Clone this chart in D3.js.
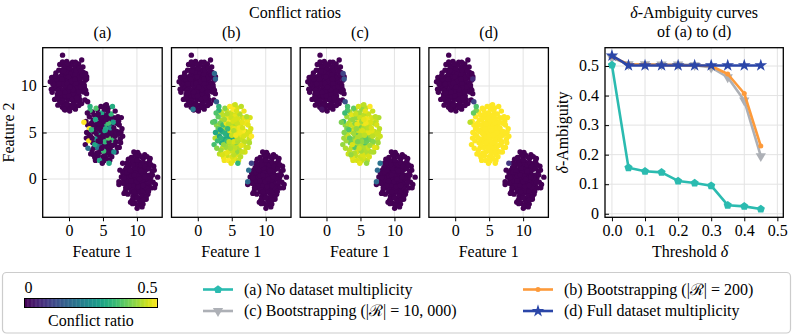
<!DOCTYPE html>
<html>
<head>
<meta charset="utf-8">
<script src="https://cdn.jsdelivr.net/npm/d3@7"></script>
</head>
<body style="margin:0">
<svg id="chart" width="793" height="335"></svg>
<script>
// ---- data ----
var panelNames = ['(a)', '(b)', '(c)', '(d)'];
var featureTicks = [0, 5, 10];

// top-left blob, conflict ratio 0 in every panel
var blobTopLeft = [
  [-0.12, 10.05], [0.35, 9.72], [-0.48, 10.31], [0.61, 10.44], [-0.73, 9.58], [0.18, 10.83], [-0.29, 9.21],
  [0.92, 9.96], [-1.04, 10.12], [0.44, 9.35], [-0.57, 10.77], [1.13, 10.52], [-0.86, 9.07], [0.07, 9.55],
  [0.71, 11.02], [-1.31, 10.48], [1.37, 9.64], [-0.21, 11.19], [0.53, 8.88], [-1.19, 9.44], [1.02, 10.95],
  [-0.64, 11.37], [0.26, 10.23], [-0.38, 9.83], [1.56, 10.21], [-1.58, 9.89], [0.83, 9.12], [-0.95, 10.86],
  [0.12, 11.58], [-0.09, 8.62], [1.29, 11.34], [-1.42, 10.97], [0.97, 8.71], [-0.72, 8.69], [1.74, 9.47],
  [-1.81, 10.36], [0.41, 11.71], [-0.47, 11.82], [1.48, 8.94], [-1.22, 8.84], [2.01, 10.28], [-2.04, 9.71],
  [0.66, 8.31], [-0.31, 8.24], [1.21, 11.87], [-1.07, 11.69], [1.89, 10.93], [-1.71, 9.12], [0.03, 12.16],
  [0.88, 12.08], [-0.79, 12.21], [1.63, 8.52], [-1.49, 8.47], [2.27, 9.81], [-2.31, 10.54], [0.21, 7.92],
  [-0.66, 7.98], [1.05, 7.86], [2.12, 11.46], [-1.93, 11.41], [2.41, 10.62], [-2.48, 9.33], [0.52, 12.57],
  [-0.33, 12.63], [1.42, 12.36], [-1.36, 12.31], [2.58, 9.18], [-2.55, 10.91], [1.86, 8.11], [-1.64, 7.94],
  [0.94, 7.51], [-0.21, 7.59], [2.05, 12.04], [-2.12, 8.56], [-0.95, 13.32], [1.87, 12.8], [2.35, 8.5],
  [-0.59, 7.42], [0.55, 10.05], [-0.55, 9.95], [0.15, 9.05], [-0.15, 10.62], [1.3, 10.05], [-1.3, 9.95],
  [0.75, 9.4], [-0.9, 10.45], [0.45, 10.95], [-0.35, 9.45], [1.05, 9.35], [-0.95, 9.55], [1.65, 10.7],
  [-1.6, 10.6], [0.3, 8.55], [-0.65, 11.05], [1.35, 9.0], [-1.1, 9.0], [0.05, 10.4], [0.65, 11.5],
  [-1.0, 11.3], [1.9, 9.7], [-1.95, 10.1], [0.0, 9.65],
  [0.38, 10.62], [-0.82, 10.28], [0.95, 10.28], [-0.18, 9.38], [0.62, 9.08], [-0.52, 8.94], [1.18, 9.78],
  [-1.45, 10.22], [0.22, 11.28], [-0.42, 11.51], [0.86, 11.22], [-1.18, 11.02], [1.52, 10.92], [-1.62, 9.52],
  [0.48, 8.62], [-0.95, 8.38], [1.26, 8.38], [-0.05, 8.95], [1.72, 9.92], [-1.85, 10.78], [0.08, 11.92],
  [-0.68, 12.05], [1.05, 11.68], [-1.5, 11.7], [2.15, 9.35], [-2.2, 9.95], [0.75, 7.95], [-0.35, 7.95],
  [1.55, 11.95], [-1.28, 8.2], [0.28, 10.48], [-0.25, 10.28], [0.58, 9.62], [-0.62, 9.32], [0.88, 10.72],
  [-1.05, 10.72], [1.45, 9.38], [-1.4, 9.25], [0.15, 9.88], [-0.08, 11.0], [1.12, 8.75], [-0.8, 11.65],
  [0.35, 12.25], [-0.15, 12.4], [1.95, 11.2], [-2.05, 11.05], [2.25, 10.1], [-2.38, 10.22], [0.5, 7.7],
  [-0.98, 7.72], [1.45, 7.9], [1.8, 11.62], [-1.75, 8.75], [2.45, 9.55], [-2.6, 9.65], [0.95, 12.55],
  [-0.95, 12.6], [2.6, 11.0], [-2.75, 10.45], [0.1, 7.3]
];

// bottom-right blob, conflict ratio 0 in every panel
var blobBottomRight = [
  [10.08, -0.14], [9.62, 0.31], [10.47, 0.52], [9.71, -0.63], [10.39, -0.48], [9.24, 0.06], [10.86, 0.11],
  [10.17, 0.84], [9.88, -1.07], [9.35, 0.92], [10.71, -0.97], [9.05, -0.58], [11.12, 0.63], [10.29, 1.27],
  [9.47, -1.34], [10.95, -0.42], [8.91, 0.47], [9.83, 1.45], [10.58, -1.51], [11.33, -0.12], [8.74, -0.21],
  [9.98, 0.38], [10.02, -0.55], [9.56, -0.12], [10.62, 0.23], [11.48, 1.04], [8.62, -0.97], [10.41, 1.79],
  [9.41, -1.88], [11.21, -1.33], [8.83, 1.21], [9.61, 1.91], [10.84, 1.38], [10.19, -2.01], [11.67, 0.32],
  [8.41, 0.39], [9.14, -1.41], [11.06, -1.86], [8.55, 1.72], [11.79, -0.71], [9.97, 2.24], [10.66, -2.32],
  [9.29, -2.27], [11.58, 1.67], [8.33, -0.52], [10.93, 2.18], [12.02, 0.12], [8.18, 0.93], [9.72, -2.61],
  [11.36, -2.18], [8.66, -1.63], [12.11, -0.96], [9.18, 2.31], [10.34, 2.58], [12.24, 0.81], [8.05, -0.11],
  [11.84, 1.94], [10.48, -2.73], [9.06, -2.49], [7.92, 0.68], [12.38, -0.35], [11.61, -1.65], [8.29, -1.31],
  [10.12, 2.86], [12.47, 1.38], [10.03, -3.15], [7.71, 0.21], [12.71, -0.58], [11.15, 2.61], [8.74, 2.12],
  [9.48, 0.71], [10.24, 0.05], [9.76, -0.31], [10.55, -0.18], [9.9, 0.9], [10.3, -1.0], [9.3, -0.4],
  [10.75, 0.65], [9.55, 1.25], [10.5, -1.25], [9.1, 0.55], [11.0, 0.0], [9.65, -0.9], [10.2, 0.45],
  [9.0, -1.0], [11.25, 0.45], [10.85, -1.4], [9.15, 1.6], [10.65, 1.0], [9.4, -0.95], [11.4, -0.6],
  [8.6, 0.05], [10.0, 1.6], [9.9, -1.6], [11.8, 0.4], [8.4, -0.25], [10.9, -2.7], [13.05, 0.2],
  [7.35, -0.6], [11.5, 2.4],
  [10.35, 0.22], [9.82, 0.62], [10.62, -0.72], [9.45, -0.72], [10.15, -1.32], [9.18, 0.32], [11.05, 0.92],
  [10.45, 1.05], [9.7, 1.18], [10.85, -0.12], [9.85, 0.08], [9.25, -1.15], [11.18, -0.85], [10.55, 1.52],
  [9.45, 1.55], [10.75, -1.82], [9.62, -1.38], [11.55, 0.05], [8.55, 0.72], [11.42, -1.02], [8.85, -0.72],
  [10.05, 2.02], [9.28, 2.0], [11.0, 1.72], [10.35, -2.35], [9.5, -2.12], [11.25, 1.35], [8.75, 1.62],
  [11.95, -0.35], [8.12, 0.15], [12.3, 0.42], [10.7, 2.35], [9.75, 2.55], [11.8, 1.15], [8.35, -0.95],
  [11.35, -1.95], [10.15, -2.85], [9.35, -2.65], [12.05, 1.55], [7.95, -0.45], [10.12, 0.28], [9.95, -0.28],
  [10.38, -0.02], [9.58, 0.42], [10.58, 0.85], [10.22, -0.82], [9.12, -0.22], [11.15, 0.18], [8.95, 0.95],
  [10.9, -0.7], [9.98, -2.05], [10.95, -2.25], [8.45, 1.25], [12.55, 0.95], [12.6, -0.95], [11.7, -1.35],
  [8.1, -1.55], [9.55, 2.9], [10.75, -3.0], [11.95, 2.2]
];

// middle blob: [feature 1, feature 2, conflict (a), (b), (c), (d)]
var blobMiddle = [
  [5.2, 4.8, 0, .47, .45, .5], [4.75, 4.7, 0, .49, .43, .5], [5.45, 5.7, 0, .46, .47, .5], [4.35, 5.85, 0, .44, .44, .5],
  [5.95, 5.75, 0, .48, .46, .5], [4.25, 4.4, 0, .45, .47, .5], [5.75, 3.65, 0, .47, .44, .5], [4.65, 3.6, 0, .48, .41, .5],
  [6.35, 4.45, 0, .46, .45, .5], [3.75, 5.25, 0, .43, .44, .5], [5.05, 6.95, 0, .47, .46, .5], [4.95, 3.05, 0, .49, .45, .5],
  [6.55, 6.6, 0, .45, .48, .5], [3.55, 6.35, 0, .44, .43, .5], [6.75, 3.75, 0, .48, .46, .5], [3.65, 3.35, 0, .46, .45, .5],
  [5.65, 6.9, 0, .47, .44, .5], [4.15, 6.75, 0, .48, .47, .5], [7.05, 5.1, 0, .46, .45, .5], [2.95, 4.8, 0, .42, .44, .5],
  [6.0, 2.6, 0, .47, .47, .5], [4.3, 2.5, 0, .46, .45, .5], [7.3, 6.2, 0, .49, .46, .5], [2.75, 5.8, 0, .41, .42, .5],
  [5.35, 7.9, 0, .48, .46, .5], [6.95, 2.9, 0, .47, .44, .5], [3.2, 2.7, 0, .45, .46, .5], [7.55, 4.3, 0, .46, .45, .5],
  [5.5, 2.2, 0, .48, .47, .5], [3.45, 7.2, 0, .46, .44, .5], [6.0, 6.2, 0, .5, .47, .5], [4.05, 5.3, 0, .47, .46, .5],
  [5.25, 3.75, 0, .45, .43, .5], [4.55, 6.9, 0, .48, .45, .5], [6.5, 5.0, 0, .49, .47, .5], [4.85, 4.4, 0, .47, .44, .5],
  [5.6, 5.95, 0, .46, .46, .5], [4.05, 3.95, 0, .48, .45, .5], [6.2, 3.05, 0, .45, .44, .5], [3.25, 5.75, 0, .44, .45, .5],
  [6.85, 6.55, 0, .48, .47, .5], [5.8, 7.65, 0, .47, .45, .5], [4.2, 7.45, 0, .46, .44, .5], [3.9, 2.0, 0, .49, .47, .5],
  [7.4, 3.4, 0, .46, .46, .5], [2.55, 4.4, 0, .44, .43, .5], [5.15, 1.95, 0, .48, .46, .5], [7.65, 5.05, 0, .47, .46, .5],
  [5.1, 5.0, 0, .48, .46, .5], [4.6, 5.4, 0, .47, .44, .5], [5.5, 4.5, .3, .45, .42, .5], [4.3, 4.7, 0, .33, .4, .5],
  [5.8, 5.3, 0, .49, .47, .5], [4.9, 4.2, 0, .46, .38, .5], [5.3, 5.8, .32, .44, .48, .5], [4.1, 5.6, 0, .42, .45, .5],
  [6.1, 4.7, 0, .48, .43, .5], [4.7, 6.2, 0, .5, .49, .5], [5.6, 3.9, 0, .41, .36, .5], [3.9, 4.3, .28, .3, .41, .5],
  [6.3, 5.7, 0, .47, .46, .5], [5.0, 3.6, 0, .45, .44, .5], [4.4, 6.6, 0, .49, .42, .5], [3.6, 5.1, 0, .32, .47, .5],
  [6.5, 4.2, .34, .46, .4, .5], [5.4, 6.7, 0, .48, .45, .5], [3.5, 3.9, 0, .31, .39, .5], [6.0, 3.3, 0, .44, .46, .5],
  [4.2, 3.4, .2, .43, .37, .5], [6.7, 5.2, 0, .5, .48, .5], [3.3, 6.0, 0, .4, .44, .5], [5.9, 6.5, 0, .47, .49, .5],
  [4.8, 7.1, .3, .46, .43, .5], [3.2, 4.6, 0, .29, .46, .5], [6.9, 4.0, 0, .45, .41, .5], [4.5, 2.9, 0, .48, .47, .5],
  [5.7, 2.9, 0, .42, .44, .5], [3.0, 5.4, .5, .38, .4, .5], [7.0, 6.0, 0, .49, .45, .5], [6.2, 7.0, .33, .44, .46, .5],
  [3.7, 6.9, 0, .45, .48, .5], [2.9, 4.1, .5, .34, .43, .5], [7.3, 4.8, 0, .47, .46, .5], [5.2, 7.5, 0, .5, .42, .5],
  [3.4, 3.1, 0, .43, .45, .5], [6.6, 2.9, .25, .46, .44, .5], [4.0, 7.6, .36, .41, .38, .5], [2.6, 5.0, 0, .3, .41, .5],
  [7.4, 5.8, 0, .48, .47, .5], [5.0, 2.4, 0, .47, .46, .5], [6.4, 7.8, .31, .45, .5, .5], [2.5, 6.2, 0, .36, .35, .5],
  [7.6, 3.9, 0, .44, .43, .5], [3.1, 7.4, .34, .32, .36, .4], [4.5, 2.0, .3, .5, .47, .5], [6.0, 2.0, 0, .46, .45, .5],
  [7.7, 6.6, 0, .47, .44, .5], [2.2, 6.1, .5, .37, .4, .45], [5.5, 8.0, 0, .46, .45, .5], [3.8, 2.3, 0, .49, .48, .5],
  [7.9, 4.6, 0, .5, .46, .5], [2.4, 3.7, 0, .35, .42, .5], [5.1, 4.4, 0, .31, .41, .5], [4.4, 5.0, .29, .3, .36, .5],
  [5.6, 5.1, 0, .48, .47, .5], [4.8, 5.8, 0, .45, .45, .5], [5.3, 4.0, .33, .47, .42, .5], [4.0, 4.9, 0, .32, .43, .5],
  [6.2, 5.0, 0, .49, .48, .5], [4.9, 6.6, 0, .46, .46, .5], [5.9, 4.0, 0, .44, .39, .5], [4.5, 3.9, .22, .43, .45, .5],
  [5.2, 6.2, 0, .47, .43, .5], [3.7, 5.8, 0, .35, .46, .5], [6.5, 6.1, .28, .48, .47, .5], [4.2, 6.0, 0, .49, .41, .5],
  [5.4, 3.3, 0, .45, .44, .5], [6.8, 4.6, 0, .47, .45, .5], [3.4, 4.4, 0, .33, .38, .5], [5.8, 6.0, .35, .46, .49, .5],
  [4.6, 4.5, 0, .3, .44, .5], [5.0, 5.5, 0, .47, .4, .5], [3.8, 3.7, .3, .42, .47, .5], [6.4, 3.6, 0, .48, .43, .5],
  [4.3, 7.0, 0, .44, .46, .5], [5.7, 7.3, 0, .47, .48, .5], [6.1, 5.5, .26, .49, .45, .5], [3.9, 6.4, .3, .43, .42, .5],
  [5.3, 2.6, 0, .45, .47, .5], [4.1, 2.8, 0, .48, .44, .5], [7.1, 3.4, 0, .46, .48, .5], [7.2, 6.7, 0, .44, .45, .5],
  [3.0, 6.7, 0, .38, .43, .5], [2.8, 3.3, .19, .41, .44, .5], [6.8, 7.3, 0, .49, .46, .5], [5.1, 3.0, .34, .46, .43, .5],
  [4.7, 7.8, 0, .5, .47, .5], [3.3, 5.3, .33, .29, .36, .5], [6.6, 5.5, 0, .47, .47, .5], [4.3, 4.1, 0, .34, .45, .5],
  [5.8, 4.4, .37, .45, .38, .5], [4.8, 3.3, 0, .44, .46, .5], [3.6, 2.6, 0, .47, .42, .5], [6.3, 2.4, 0, .45, .47, .5],
  [5.4, 5.4, .31, .48, .44, .5], [4.5, 5.9, 0, .45, .48, .5], [2.7, 7.1, 0, .36, .34, .38], [3.1, 7.8, .32, .33, .35, .36],
  [7.8, 5.4, 0, .47, .45, .5], [5.9, 1.7, .3, .33, .42, .5], [4.9, 1.7, 0, .48, .48, .5], [5.0, 4.7, 0, .46, .44, .5],
  [4.7, 5.2, 0, .48, .46, .5], [5.3, 5.2, .29, .44, .47, .5], [4.4, 5.4, 0, .34, .42, .5], [5.6, 4.7, 0, .49, .45, .5],
  [4.6, 4.0, 0, .45, .4, .5], [5.5, 6.4, 0, .47, .48, .5]
];

// points between blobs that pick up a small conflict in (b)-(d)
var boundaryPoints = [
  [2.45, 11.35, 0, .17, .1, 0], [2.6, 10.75, 0, .16, .13, .06], [2.75, 8.3, 0, .15, .13, .1],
  [-0.7, 7.5, 0, .2, .02, 0], [7.5, 0.95, 0, .18, .17, 0], [7.35, -0.3, 0, .17, .17, 0], [7.9, 1.7, 0, .1, .19, .08]
];

var colorbarTicks = [0, 0.5];

var thresholds = [0, 0.05, 0.1, 0.15, 0.2, 0.25, 0.3, 0.35, 0.4, 0.45];
var ambiguityA = [0.503, 0.156, 0.144, 0.140, 0.111, 0.104, 0.095, 0.029, 0.025, 0.016];
var ambiguityB = [0.532, 0.505, 0.505, 0.503, 0.503, 0.502, 0.500, 0.473, 0.407, 0.229];
var ambiguityC = [0.528, 0.506, 0.506, 0.505, 0.505, 0.503, 0.495, 0.462, 0.383, 0.195];
var ambiguityD = [0.535, 0.502, 0.502, 0.502, 0.502, 0.502, 0.502, 0.502, 0.502, 0.502];
var thresholdTicks = [0, 0.1, 0.2, 0.3, 0.4, 0.5];
var ambiguityTicks = [0, 0.1, 0.2, 0.3, 0.4, 0.5];

// ---- drawing ----
var svg = d3.select('#chart');
var fontFamily = 'Liberation Serif';
var fontSize = 16;
var gridColor = '#e3e3e3';

var panelLefts = [42.7, 171.5, 300.2, 428.9];
var panelW = 119.5;
var panelTop = 47.7;
var panelH = 169.6;

var conflictColor = d3.scaleSequential(d3.interpolateViridis).domain([0, 0.5]);

var x = d3.scaleLinear().domain([-3.87, 13.72]).range([0, panelW]);
var y = d3.scaleLinear().domain([-4.12, 14.12]).range([panelH, 0]);

function label(parent, px, py, anchor) {
  return parent.append('text').attr('x', px).attr('y', py)
    .attr('text-anchor', anchor || 'middle')
    .attr('font-family', fontFamily).attr('font-size', fontSize).attr('fill', '#000');
}

// text made of upright and italic pieces, centred on (cx, cy)
function mixedLabel(parent, parts, cx, cy, rotate) {
  var g = parent.append('g');
  var pos = 0;
  parts.forEach(function (p) {
    var t = label(g, pos, 0, 'start').text(p[0]);
    if (p[1]) t.attr('font-style', 'italic');
    pos += t.node().getComputedTextLength();
  });
  g.attr('transform', 'translate(' + cx + ',' + cy + ')' + (rotate ? ' rotate(' + rotate + ')' : '') +
    ' translate(' + (-pos / 2) + ',0)');
  return g;
}

// regular pentagon marker for series (a)
var symbolPentagon = {
  draw: function (ctx, size) {
    var r = Math.sqrt(size / 2.378);
    for (var k = 0; k < 5; k++) {
      var a = -Math.PI / 2 + (k * 2 * Math.PI) / 5;
      if (k === 0) ctx.moveTo(r * Math.cos(a), r * Math.sin(a));
      else ctx.lineTo(r * Math.cos(a), r * Math.sin(a));
    }
    ctx.closePath();
  }
};

var defs = svg.append('defs');

function drawGrid(g, w, h, xs, ys, xt, yt) {
  g.append('g').selectAll('line').data(xt).enter().append('line')
    .attr('x1', function (d) { return xs(d); }).attr('x2', function (d) { return xs(d); })
    .attr('y1', 0).attr('y2', h)
    .attr('stroke', gridColor).attr('stroke-width', 1);
  g.append('g').selectAll('line').data(yt).enter().append('line')
    .attr('y1', function (d) { return ys(d); }).attr('y2', function (d) { return ys(d); })
    .attr('x1', 0).attr('x2', w)
    .attr('stroke', gridColor).attr('stroke-width', 1);
}

function drawTicks(g, w, h, xs, ys, xt, yt, xfmt, yfmt, showY) {
  var xAxis = g.append('g').attr('transform', 'translate(0,' + h + ')')
    .call(d3.axisBottom(xs).tickValues(xt).tickSize(4).tickPadding(3).tickFormat(xfmt));
  xAxis.select('.domain').remove();
  xAxis.attr('font-family', fontFamily).attr('font-size', fontSize);
  xAxis.selectAll('text').attr('font-family', fontFamily).attr('fill', '#000');
  xAxis.selectAll('line').attr('stroke', '#000').attr('stroke-width', 1);

  var yAxis = g.append('g')
    .call(d3.axisRight(ys).tickValues(yt).tickSize(4).tickFormat(''));
  yAxis.select('.domain').remove();
  yAxis.selectAll('line').attr('stroke', '#000').attr('stroke-width', 1);

  if (showY) {
    yt.forEach(function (d) {
      label(g, -6, ys(d), 'end').attr('dy', '0.33em').text(yfmt(d));
    });
  }
  g.append('rect').attr('width', w).attr('height', h)
    .attr('fill', 'none').attr('stroke', '#000').attr('stroke-width', 1.3);
}

panelLefts.forEach(function (left, p) {
  var g = svg.append('g').attr('transform', 'translate(' + left + ',' + panelTop + ')');
  drawGrid(g, panelW, panelH, x, y, featureTicks, featureTicks);

  defs.append('clipPath').attr('id', 'clip' + p)
    .append('rect').attr('width', panelW).attr('height', panelH);
  var pts = g.append('g').attr('clip-path', 'url(#clip' + p + ')');

  function dots(data, colorOf) {
    pts.append('g').selectAll('circle').data(data).enter().append('circle')
      .attr('cx', function (d) { return x(d[0]); })
      .attr('cy', function (d) { return y(d[1]); })
      .attr('r', 2.7)
      .attr('fill', colorOf);
  }
  dots(blobTopLeft, function () { return conflictColor(0); });
  dots(blobBottomRight, function () { return conflictColor(0); });
  dots(blobMiddle, function (d) { return conflictColor(d[2 + p]); });
  dots(boundaryPoints, function (d) { return conflictColor(d[2 + p]); });

  drawTicks(g, panelW, panelH, x, y, featureTicks, featureTicks, d3.format('d'), d3.format('d'), p === 0);

  label(g, panelW / 2, -10).text(panelNames[p]);
  label(g, panelW / 2, panelH + 40).text('Feature 1');
});

label(svg, 295, 18).text('Conflict ratios');
label(svg, 0, 0).attr('transform', 'translate(13.5,' + (panelTop + panelH / 2) + ') rotate(-90)').text('Feature 2');

// ---- δ-ambiguity panel ----
var rLeft = 605, rW = 178.3;
var rx = d3.scaleLinear().domain([-0.021, 0.518]).range([0, rW]);
var ry = d3.scaleLinear().domain([-0.012, 0.562]).range([panelH, 0]);
var rg = svg.append('g').attr('transform', 'translate(' + rLeft + ',' + panelTop + ')');
drawGrid(rg, rW, panelH, rx, ry, thresholdTicks, ambiguityTicks);

var series = [
  { name: '(c) Bootstrapping (|ℛ| = 10, 000)', values: ambiguityC, color: '#adb0b6', symbol: d3.symbolTriangle, size: 46, rotate: 180 },
  { name: '(b) Bootstrapping (|ℛ| = 200)', values: ambiguityB, color: '#fd9a3a', symbol: d3.symbolCircle, size: 20, rotate: 0 },
  { name: '(a) No dataset multiplicity', values: ambiguityA, color: '#2bbbb0', symbol: symbolPentagon, size: 44, rotate: 0 },
  { name: '(d) Full dataset multiplicity', values: ambiguityD, color: '#2b46a8', symbol: d3.symbolStar, size: 50, rotate: 0 }
];

var lineGen = d3.line()
  .x(function (d, i) { return rx(thresholds[i]); })
  .y(function (d) { return ry(d); });

series.forEach(function (s) {
  rg.append('path').datum(s.values).attr('d', lineGen)
    .attr('fill', 'none').attr('stroke', s.color).attr('stroke-width', 2.6)
    .attr('stroke-linejoin', 'round');
  rg.append('g').selectAll('path').data(s.values).enter().append('path')
    .attr('d', d3.symbol().type(s.symbol).size(s.size))
    .attr('transform', function (d, i) {
      return 'translate(' + rx(thresholds[i]) + ',' + ry(d) + ') rotate(' + s.rotate + ')';
    })
    .attr('fill', s.color);
});

drawTicks(rg, rW, panelH, rx, ry, thresholdTicks, ambiguityTicks, d3.format('.1f'),
  function (d) { return d === 0 ? '0' : d3.format('.1f')(d); }, true);

mixedLabel(svg, [['δ', true], ['-Ambiguity curves', false]], rLeft + rW / 2, 18);
label(svg, rLeft + rW / 2, 37).text('of (a) to (d)');
mixedLabel(svg, [['Threshold\u00a0', false], ['δ', true]], rLeft + rW / 2 - 4, 257);
mixedLabel(svg, [['δ', true], ['-Ambiguity', false]], 568, panelTop + panelH / 2, -90);

// ---- legend ----
var lg = svg.append('g');
lg.append('rect').attr('x', 2.5).attr('y', 272.5).attr('width', 788).attr('height', 60.5)
  .attr('rx', 4).attr('fill', '#fff').attr('stroke', '#cccccc').attr('stroke-width', 1.2);

// colour bar drawn as thin strips through the same colour scale
var cb = d3.scaleLinear().domain([0, 0.5]).range([24.5, 157.5]);
var strips = d3.range(0, 0.5, 0.005);
lg.append('g').selectAll('rect').data(strips).enter().append('rect')
  .attr('x', function (d) { return cb(d); }).attr('y', 298.5)
  .attr('width', cb(0.005) - cb(0) + 0.4).attr('height', 9)
  .attr('fill', function (d) { return conflictColor(d + 0.0025); });
lg.append('rect').attr('x', cb(0)).attr('y', 298.5).attr('width', cb(0.5) - cb(0)).attr('height', 9)
  .attr('fill', 'none').attr('stroke', '#000').attr('stroke-width', 1);
colorbarTicks.forEach(function (d, i) {
  label(lg, cb(d), 293, i === 0 ? 'start' : 'end').text(d === 0 ? '0' : String(d));
});
label(lg, 91, 326).text('Conflict ratio');

var legendOrder = [series[2], series[0], series[1], series[3]];
var legendCols = [203, 523];
var legendRows = [289.5, 311];
legendOrder.forEach(function (s, i) {
  var lx = legendCols[Math.floor(i / 2)], ly = legendRows[i % 2];
  var item = lg.append('g').attr('transform', 'translate(' + lx + ',' + ly + ')');
  item.append('line').attr('x1', 0).attr('x2', 30).attr('stroke', s.color).attr('stroke-width', 2.6);
  item.append('path').attr('d', d3.symbol().type(s.symbol).size(s.size))
    .attr('transform', 'translate(15,0) rotate(' + s.rotate + ')').attr('fill', s.color);
  label(item, 41, 5, 'start').text(s.name);
});
</script>
</body>
</html>
